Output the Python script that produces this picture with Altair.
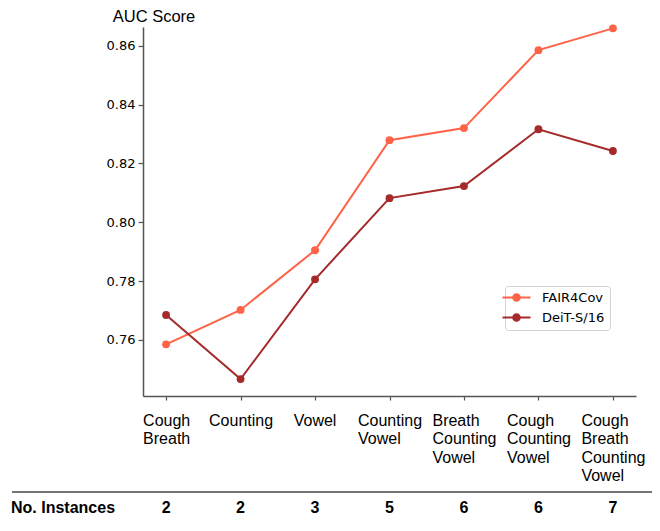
import altair as alt
import pandas as pd

# ---- data ----
categories = ["Cough Breath", "Counting", "Vowel", "Counting Vowel",
              "Breath Counting Vowel", "Cough Counting Vowel",
              "Cough Breath Counting Vowel"]
fair4cov = [0.7585, 0.7702, 0.7905, 0.8279, 0.8320, 0.8585, 0.8659]
deit = [0.7685, 0.7467, 0.7806, 0.8082, 0.8123, 0.8316, 0.8242]
instances = [2, 2, 3, 5, 6, 6, 7]
models = ["FAIR4Cov", "DeiT-S/16"]
colors = ["#FF6347", "#A52A2A"]
y_ticks = [0.76, 0.78, 0.80, 0.82, 0.84, 0.86]
y_title = "AUC Score"
row_label = "No. Instances"

rows = []
for m, vals in zip(models, [fair4cov, deit]):
    for c, v in zip(categories, vals):
        rows.append({"category": c, "model": m, "auc": v})
df = pd.DataFrame(rows)
num_df = pd.DataFrame({"category": categories, "n": instances})

AXIS_GRAY = "#555555"
DEJAVU = "DejaVu Sans, Verdana, sans-serif"
ARIAL = "Liberation Sans, Arial, sans-serif"

xscale = alt.Scale(type="point", domain=categories, padding=0.31)
xaxis = alt.Axis(
    title=None, labelAngle=0,
    labelExpr="split(datum.value, ' ')",
    labelAlign="left",
    labelOffset={"condition": [
        {"test": "datum.value == 'Cough Breath'", "value": -23.5},
        {"test": "datum.value == 'Vowel'", "value": -21.8}],
        "value": -32},
    labelBaseline="top", labelPadding=12, labelLineHeight=18.5,
    labelFont=ARIAL, labelFontSize=16, labelColor="black",
    tickSize=4, tickColor=AXIS_GRAY, tickWidth=1.2,
    domainColor=AXIS_GRAY, domainWidth=1.5, grid=False,
)
x_enc = alt.X("category:N", sort=categories, scale=xscale, axis=xaxis)

yscale = alt.Scale(domain=[0.74095, 0.86636], nice=False, zero=False)
yaxis = alt.Axis(
    values=y_ticks, format=".2f", grid=False,
    title=y_title, titleAngle=0, titleAlign="center", titleBaseline="alphabetic",
    titleX=10.5, titleY=-6, titleFont=ARIAL, titleFontSize=16.5,
    titleFontWeight="normal", titleColor="black",
    labelFont=DEJAVU, labelFontSize=13, labelColor="black", labelPadding=3,
    tickSize=5, tickColor=AXIS_GRAY, tickWidth=1.2,
    domainColor=AXIS_GRAY, domainWidth=1.5,
)

def circ(r):
    return f"M{r},0A{r},{r} 0 1,1 {-r},0A{r},{r} 0 1,1 {r},0Z"

legend_symbol = "M-2.8,0H2.8" + circ(0.66) + circ(0.4) + circ(0.14)

lines = alt.Chart(df).mark_line(
    strokeWidth=2,
    point=alt.OverlayMarkDef(filled=True, size=62, opacity=1),
).encode(
    x=x_enc,
    y=alt.Y("auc:Q", scale=yscale, axis=yaxis),
    color=alt.Color("model:N", sort=models,
                    scale=alt.Scale(domain=models, range=colors),
                    legend=alt.Legend(
                        title=None, orient="none", legendX=362, legendY=259,
                        symbolType=legend_symbol, symbolSize=100,
                        symbolStrokeWidth=2, symbolOpacity=1,
                        labelFont=DEJAVU, labelFontSize=13,
                        labelColor="black", labelOffset=19, rowPadding=5,
                        padding=5, strokeColor="#d3d3d3", fillColor="white",
                        cornerRadius=3)),
)

nums = alt.Chart(num_df).mark_text(
    font=ARIAL, fontSize=16, fontWeight="bold",
    baseline="alphabetic", align="center", color="black",
).encode(x=x_enc, y=alt.value(486), text="n:Q")

label = alt.Chart(pd.DataFrame({"t": [row_label]})).mark_text(
    font=ARIAL, fontSize=16, fontWeight="bold",
    baseline="alphabetic", align="left", color="black",
).encode(x=alt.value(-132), y=alt.value(486), text="t:N")

rule = alt.Chart(pd.DataFrame({"a": [0]})).mark_rule(
    color="#444444", strokeWidth=1.5,
).encode(x=alt.value(-131), x2=alt.value(515), y=alt.value(465))

chart = alt.layer(lines, nums, label, rule).properties(
    width=493, height=369,
    autosize=alt.AutoSizeParams(type="none"),
    padding={"left": 135, "top": 19, "right": 16, "bottom": 122},
).configure_view(stroke=None)

chart.save("out.html", embed_options={"renderer": "svg", "actions": False})
